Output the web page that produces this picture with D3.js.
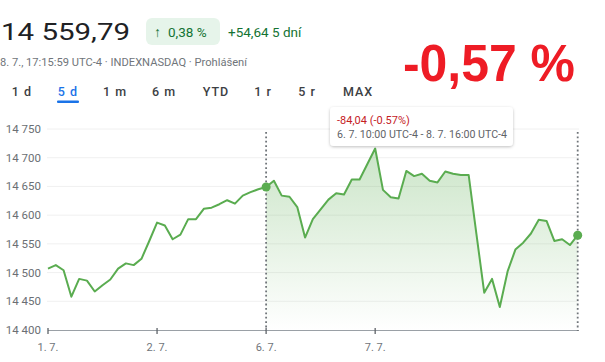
<!DOCTYPE html>
<html><head><meta charset="utf-8">
<script src="https://cdn.jsdelivr.net/npm/d3@7"></script>
<style>body{margin:0;background:#fff;overflow:hidden}svg{display:block;font-family:Roboto,"Noto Sans",sans-serif}</style>
</head><body><svg id="chart"></svg>
<script>
// values, 30-min steps, 14 per trading day
const day1 = [14507,14513,14504,14458,14489,14486,14467,14478,14488,14507,14516,14513,14524,14555];
const day2 = [14587,14582,14558,14566,14593,14593,14611,14613,14619,14626,14620,14634,14640,14645];
const day6 = [14649,14660,14634,14632,14614,14561,14593,14610,14627,14638,14636,14662,14662,14689];
const day7 = [14716,14644,14631,14629,14677,14668,14672,14660,14657,14676,14672,14670,14670,14567];
const day8 = [14465,14489,14440,14502,14540,14552,14568,14592,14590,14555,14558,14548,14565];
const dayLabels = ['1. 7.','2. 7.','6. 7.','7. 7.'];
const yTicks = [14400,14450,14500,14550,14600,14650,14700,14750];
const tabs = ['1 d','5 d','1 m','6 m','YTD','1 r','5 r','MAX'];
const price = '14 559,79', change = '0,38 %', changeAbs = '+54,64 5 dní';
const rangeChange = '-84,04 (-0.57%)', rangeText = '6. 7. 10:00 UTC-4 - 8. 7. 16:00 UTC-4';
const bigLabel = '-0,57 %';
const selStart = 28; // index of 6. 7. 10:00

const values = [...day1,...day2,...day6,...day7,...day8];
const data = values.map((v,i)=>({i,v}));
const W=605,H=362, green='#5aac50';
const svg=d3.select('#chart').attr('width',W).attr('height',H);

const x=d3.scaleLinear().domain([0,values.length-1]).range([48,577.7]);
const y=d3.scaleLinear().domain([14400,14750]).range([330,129]);
const loc=d3.formatLocale({decimal:',',thousands:' ',grouping:[3],currency:['','']});

// header
svg.append('text').attr('x',1).attr('y',40).attr('textLength',129).attr('lengthAdjust','spacingAndGlyphs')
  .style('font-size','24px').style('fill','#202124').text(price);
svg.append('text').attr('x',0).attr('y',66).style('font-size','11px').style('fill','#70757a')
  .attr('textLength',247).attr('lengthAdjust','spacingAndGlyphs').text('8. 7., 17:15:59 UTC-4 · INDEXNASDAQ · Prohlášení');
svg.append('rect').attr('x',146).attr('y',18).attr('width',74).attr('height',27).attr('rx',6).style('fill','#e6f4ea');
svg.append('text').attr('x',154).attr('y',37).style('font-size','14px').style('font-weight','bold').style('fill','#137333').text('↑');
svg.append('text').attr('x',168).attr('y',37).style('font-size','13.5px').style('fill','#137333').text(change);
svg.append('text').attr('x',228).attr('y',37).style('font-size','13.5px').style('fill','#137333').text(changeAbs);
svg.append('text').attr('x',403).attr('y',81).style('font-family','"Liberation Sans",Arial,sans-serif')
  .style('font-weight','bold').style('font-size','52px').style('fill','#ee1c25')
  .attr('textLength',172).attr('lengthAdjust','spacingAndGlyphs').text(bigLabel);

// tabs
const tabX=[22,68,115,164,216,263,307,358];
svg.selectAll('.tab').data(tabs).join('text').attr('class','tab')
  .attr('x',(d,i)=>tabX[i]).attr('y',96).attr('text-anchor','middle')
  .style('font-size','12.5px').style('letter-spacing','1px')
  .style('fill',d=>d==='5 d'?'#1a73e8':'#3c4043').style('font-weight',500).text(d=>d);
svg.append('rect').attr('x',57).attr('y',100.5).attr('width',22).attr('height',2.5).attr('rx',1).style('fill','#1a73e8');

// grid + y labels
const g=svg.append('g');
g.selectAll('.grid').data(yTicks.slice(1)).join('line').attr('x1',47).attr('x2',579)
  .attr('y1',d=>y(d)).attr('y2',d=>y(d)).style('stroke','#f0f0f0');
g.selectAll('.yl').data(yTicks).join('text').attr('x',41).attr('y',d=>y(d)+4).attr('text-anchor','end')
  .style('font-size','11.5px').style('fill','#6b6f74').text(d=>loc.format(',')(d));

// x axis
g.append('line').attr('x1',x(0)).attr('x2',579).attr('y1',330.5).attr('y2',330.5).style('stroke','#9aa0a6');
const xt=dayLabels.map((d,i)=>({d,i:i*14}));
g.selectAll('.tk').data(xt).join('line').attr('x1',d=>x(d.i)).attr('x2',d=>x(d.i)).attr('y1',328).attr('y2',334).style('stroke','#5f6368').style('stroke-width',1.3);
g.selectAll('.xl').data(xt).join('text').attr('x',d=>x(d.i)).attr('y',351).attr('text-anchor','middle')
  .style('font-size','11px').style('fill','#70757a').text(d=>d.d);

// selection area
const defs=svg.append('defs');
const grad=defs.append('linearGradient').attr('id','gf').attr('gradientUnits','userSpaceOnUse')
  .attr('x1',0).attr('x2',0).attr('y1',y(14720)).attr('y2',330);
grad.append('stop').attr('offset',0).style('stop-color','#5aac50').style('stop-opacity',0.32);
grad.append('stop').attr('offset',1).style('stop-color','#5aac50').style('stop-opacity',0.0);
const sel=data.filter(d=>d.i>=selStart);
g.append('path').datum(sel).attr('d',d3.area().x(d=>x(d.i)).y0(330).y1(d=>y(d.v))).style('fill','url(#gf)');

// dotted markers
[selStart,values.length-1].forEach(i=>{
  g.append('line').attr('x1',x(i)).attr('x2',x(i)).attr('y1',132).attr('y2',331)
   .style('stroke','#70757a').style('stroke-width',1.8).style('stroke-dasharray','1.8,2.6');
});

g.append('path').datum(data).attr('d',d3.line().x(d=>x(d.i)).y(d=>y(d.v)))
  .style('fill','none').style('stroke',green).style('stroke-width',2).style('stroke-linejoin','round');
g.selectAll('.dot').data([data[selStart],data[values.length-1]]).join('circle')
  .attr('cx',d=>x(d.i)).attr('cy',d=>y(d.v)).attr('r',4.5).style('fill',green);

// tooltip
const tip=svg.append('g').attr('transform','translate(330,107)');
defs.append('filter').attr('id','sh').attr('x',-0.1).attr('y',-0.3).attr('width',1.2).attr('height',1.6)
  .append('feDropShadow').attr('dx',0).attr('dy',1).attr('stdDeviation',1.5).attr('flood-color','#000').attr('flood-opacity',0.25);
tip.append('rect').attr('width',183).attr('height',39).attr('rx',4).style('fill','#fff').attr('filter','url(#sh)');
tip.append('text').attr('x',7).attr('y',17).style('font-size','11px').style('fill','#c5221f').text(rangeChange);
tip.append('text').attr('x',7).attr('y',31).style('font-size','11px').style('fill','#5f6368')
  .attr('textLength',170).attr('lengthAdjust','spacingAndGlyphs').text(rangeText);
</script></body></html>
